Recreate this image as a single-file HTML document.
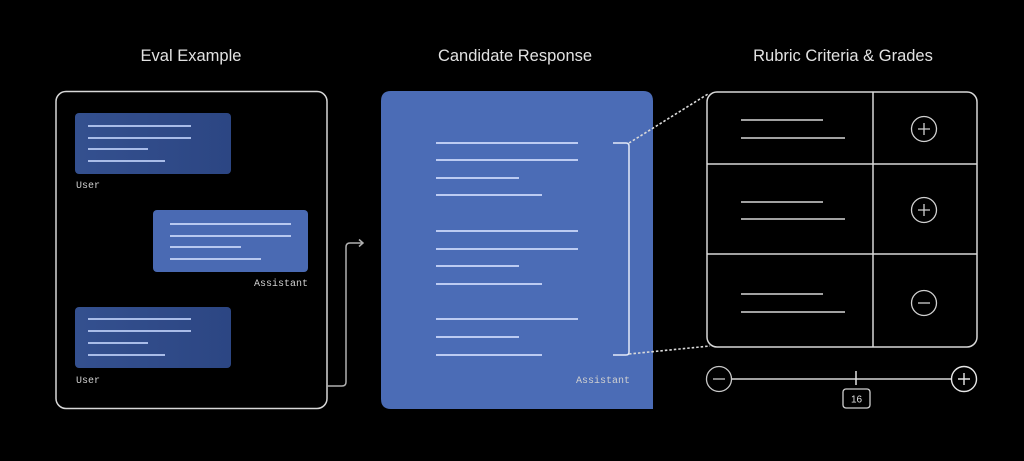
<!DOCTYPE html>
<html>
<head>
<meta charset="utf-8">
<style>
html,body{margin:0;padding:0;background:#000;}
body{width:1024px;height:461px;overflow:hidden;}
svg{display:block;}
.t{font-family:"Liberation Sans",sans-serif;font-size:16.5px;fill:#e2e2e2;}
.m{font-family:"Liberation Mono",monospace;font-size:10px;fill:#d0d0d0;}
</style>
</head>
<body>
<svg width="1024" height="461" viewBox="0 0 1024 461" xmlns="http://www.w3.org/2000/svg">
<defs>
<linearGradient id="ub" x1="0" y1="0" x2="1" y2="0">
<stop offset="0" stop-color="#34508f"/>
<stop offset="1" stop-color="#2c4683"/>
</linearGradient>
</defs>
<rect width="1024" height="461" fill="#000"/>

<!-- Titles -->
<text class="t" x="191" y="61" text-anchor="middle">Eval Example</text>
<text class="t" x="515" y="61" text-anchor="middle">Candidate Response</text>
<text class="t" x="843" y="61" text-anchor="middle">Rubric Criteria &amp; Grades</text>

<!-- Left panel -->
<rect x="56" y="91.5" width="271" height="317" rx="10" fill="none" stroke="#d8d8d8" stroke-width="1.5"/>

<!-- User bubble 1 -->
<rect x="75" y="113" width="156" height="61" rx="4" fill="url(#ub)"/>
<g stroke="#a9bce8" stroke-width="2">
<line x1="88" y1="126" x2="191" y2="126"/>
<line x1="88" y1="138" x2="191" y2="138"/>
<line x1="88" y1="149" x2="148" y2="149"/>
<line x1="88" y1="161" x2="165" y2="161"/>
</g>
<text class="m" x="76" y="188">User</text>

<!-- Assistant bubble -->
<rect x="153" y="210" width="155" height="62" rx="4" fill="#4a6ab3"/>
<g stroke="#b8c8f0" stroke-width="2">
<line x1="170" y1="224" x2="291" y2="224"/>
<line x1="170" y1="236" x2="291" y2="236"/>
<line x1="170" y1="247" x2="241" y2="247"/>
<line x1="170" y1="259" x2="261" y2="259"/>
</g>
<text class="m" x="308" y="286" text-anchor="end">Assistant</text>

<!-- User bubble 2 -->
<rect x="75" y="307" width="156" height="61" rx="4" fill="url(#ub)"/>
<g stroke="#a9bce8" stroke-width="2">
<line x1="88" y1="319" x2="191" y2="319"/>
<line x1="88" y1="331" x2="191" y2="331"/>
<line x1="88" y1="343" x2="148" y2="343"/>
<line x1="88" y1="355" x2="165" y2="355"/>
</g>
<text class="m" x="76" y="383">User</text>

<!-- Connector arrow -->
<path d="M327 386 H342 Q346 386 346 382 V247 Q346 243 350 243 H363" fill="none" stroke="#b0b0b0" stroke-width="1.5"/>
<path d="M359 239.5 L363 243 L359 246.5" fill="none" stroke="#b0b0b0" stroke-width="1.5"/>

<!-- Middle panel -->
<path d="M391 91 H643 Q653 91 653 101 V409 H391 Q381 409 381 399 V101 Q381 91 391 91 Z" fill="#4b6cb6"/>
<g stroke="#bccbf2" stroke-width="2">
<line x1="436" y1="143" x2="578" y2="143"/>
<line x1="436" y1="160" x2="578" y2="160"/>
<line x1="436" y1="178" x2="519" y2="178"/>
<line x1="436" y1="195" x2="542" y2="195"/>
<line x1="436" y1="231" x2="578" y2="231"/>
<line x1="436" y1="249" x2="578" y2="249"/>
<line x1="436" y1="266" x2="519" y2="266"/>
<line x1="436" y1="284" x2="542" y2="284"/>
<line x1="436" y1="319" x2="578" y2="319"/>
<line x1="436" y1="337" x2="519" y2="337"/>
<line x1="436" y1="355" x2="542" y2="355"/>
</g>
<!-- bracket -->
<path d="M613 143 H626 Q629 143 629 146 V352 Q629 355 626 355 H613" fill="none" stroke="#e4eaf8" stroke-width="1.5"/>
<text class="m" x="630" y="383" text-anchor="end" fill="#e0e6f6">Assistant</text>

<!-- Dotted lines -->
<line x1="629" y1="143" x2="708" y2="94" stroke="#dadada" stroke-width="1.6" stroke-dasharray="2.5 2"/>
<line x1="629" y1="354" x2="710" y2="346" stroke="#dadada" stroke-width="1.6" stroke-dasharray="2.5 2"/>

<!-- Right panel -->
<rect x="707" y="92" width="270" height="255" rx="10" fill="none" stroke="#d8d8d8" stroke-width="1.5"/>
<line x1="873" y1="92" x2="873" y2="347" stroke="#d8d8d8" stroke-width="1.5"/>
<line x1="707" y1="164" x2="977" y2="164" stroke="#d8d8d8" stroke-width="1.5"/>
<line x1="707" y1="254" x2="977" y2="254" stroke="#d8d8d8" stroke-width="1.5"/>
<g stroke="#b8b8b8" stroke-width="1.8">
<line x1="741" y1="120" x2="823" y2="120"/>
<line x1="741" y1="138" x2="845" y2="138"/>
<line x1="741" y1="202" x2="823" y2="202"/>
<line x1="741" y1="219" x2="845" y2="219"/>
<line x1="741" y1="294" x2="823" y2="294"/>
<line x1="741" y1="312" x2="845" y2="312"/>
</g>
<g fill="none" stroke="#d0d0d0" stroke-width="1.3">
<circle cx="924" cy="129" r="12.5"/>
<path d="M918 129 H930 M924 123 V135"/>
<circle cx="924" cy="210" r="12.5"/>
<path d="M918 210 H930 M924 204 V216"/>
<circle cx="924" cy="303" r="12.5"/>
<path d="M918 303 H930"/>
</g>

<!-- Slider -->
<line x1="732" y1="379" x2="951" y2="379" stroke="#d8d8d8" stroke-width="1.5"/>
<line x1="856" y1="371" x2="856" y2="385" stroke="#e0e0e0" stroke-width="1.5"/>
<g fill="none" stroke="#c8c8c8" stroke-width="1.3">
<circle cx="719" cy="379" r="12.5"/>
<path d="M713 379 H725"/>
</g>
<g fill="none" stroke="#e6e6e6" stroke-width="1.4">
<circle cx="964" cy="379" r="12.5"/>
<path d="M958 379 H970 M964 373 V385"/>
</g>
<rect x="843" y="389" width="27" height="19" rx="3" fill="#000" stroke="#d0d0d0" stroke-width="1.3"/>
<text x="856.5" y="402.5" text-anchor="middle" font-family="Liberation Sans, sans-serif" font-size="10" fill="#e0e0e0">16</text>
</svg>
</body>
</html>
